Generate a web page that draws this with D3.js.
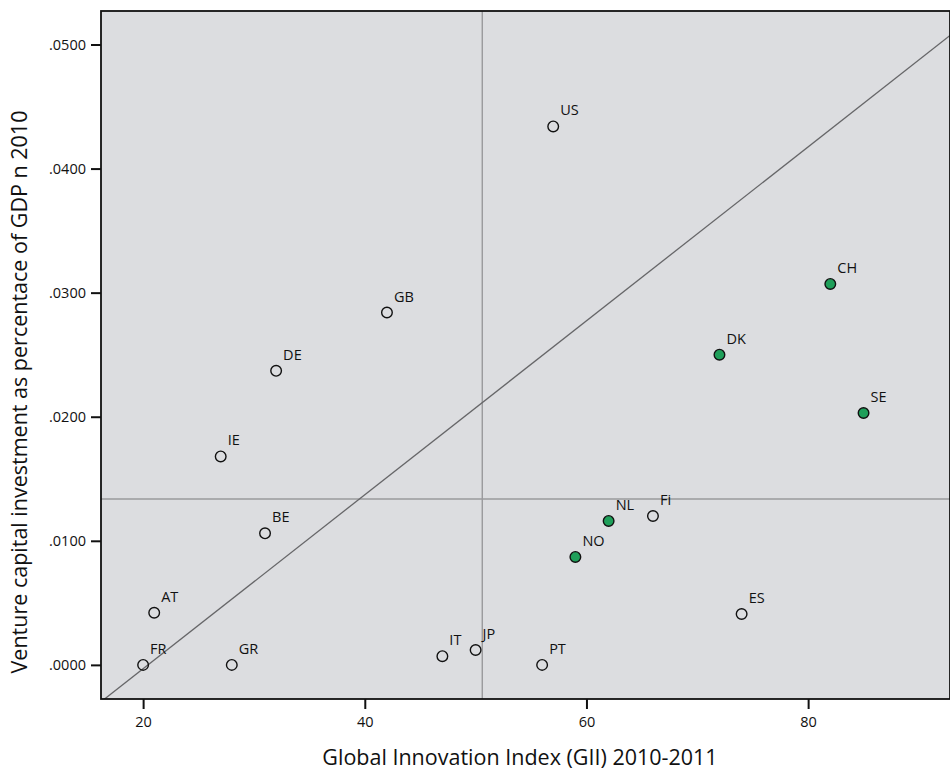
<!DOCTYPE html>
<html>
<head>
<meta charset="utf-8">
<script src="https://cdn.jsdelivr.net/npm/d3@7"></script>
<style>
  html, body { margin: 0; padding: 0; background: #ffffff; }
  svg { display: block; }
  text { font-family: "Open Sans", "Noto Sans", sans-serif; fill: #111; }
</style>
</head>
<body>
<svg id="chart" width="950" height="771"></svg>
<script>
// ---- data ----
const countries = ["US","GB","DE","IE","BE","AT","FR","GR","IT","JP","PT","NO","NL","Fi","ES","DK","CH","SE"];
const gii       = [57, 42, 32, 27, 31, 21, 20, 28, 47, 50, 56, 59, 62, 66, 74, 72, 82, 85];
const vcShare   = [0.0434, 0.0284, 0.0237, 0.0168, 0.0106, 0.0042, 0.0000, 0.0000, 0.0007, 0.0012, 0.0000, 0.0087, 0.0116, 0.0120, 0.0041, 0.0250, 0.0307, 0.0203];
const highlighted = ["NO","NL","DK","CH","SE"];
const xTicks = [20, 40, 60, 80];
const yTicks = [0.0, 0.01, 0.02, 0.03, 0.04, 0.05];
const refX = 50.6;       // vertical reference line
const refY = 0.01337;    // horizontal reference line
const fitSlope = 0.000701;
const fitIntercept = -0.01433;
const xTitle = "Global Innovation Index (GII) 2010-2011";
const yTitle = "Venture capital investment as percentace of GDP n 2010";

// ---- layout ----
const plot = { left: 101, top: 11, right: 950, bottom: 699 };
const svg = d3.select("#chart");

const x = d3.scaleLinear().domain([16.2, 92.8]).range([plot.left, plot.right]);
const y = d3.scaleLinear().domain([-0.00275, 0.0527]).range([plot.bottom, plot.top]);

svg.append("defs").append("clipPath").attr("id", "clip")
  .append("rect")
  .attr("x", plot.left).attr("y", plot.top)
  .attr("width", plot.right - plot.left).attr("height", plot.bottom - plot.top);

// background
svg.append("rect")
  .attr("x", plot.left).attr("y", plot.top)
  .attr("width", plot.right - plot.left).attr("height", plot.bottom - plot.top)
  .attr("fill", "#dcdde0");

const g = svg.append("g").attr("clip-path", "url(#clip)");

// reference lines
g.append("line")
  .attr("x1", x(refX)).attr("x2", x(refX))
  .attr("y1", plot.top).attr("y2", plot.bottom)
  .attr("stroke", "#9a9a9c").attr("stroke-width", 1.4);
g.append("line")
  .attr("x1", plot.left).attr("x2", plot.right)
  .attr("y1", y(refY)).attr("y2", y(refY))
  .attr("stroke", "#9a9a9c").attr("stroke-width", 1.6);

// fit line
const xd = x.domain();
g.append("line")
  .attr("x1", x(xd[0])).attr("y1", y(fitSlope * xd[0] + fitIntercept))
  .attr("x2", x(xd[1])).attr("y2", y(fitSlope * xd[1] + fitIntercept))
  .attr("stroke", "#666668").attr("stroke-width", 1.3);

// points
const pts = countries.map((c, i) => ({ c, gx: gii[i], vy: vcShare[i], hi: highlighted.includes(c) }));
g.selectAll("circle.pt").data(pts).enter().append("circle")
  .attr("class", "pt")
  .attr("cx", d => x(d.gx)).attr("cy", d => y(d.vy))
  .attr("r", 5.3)
  .attr("fill", d => d.hi ? "#1f9f5a" : "none")
  .attr("stroke", "#111").attr("stroke-width", 1.4);

g.selectAll("text.lbl").data(pts).enter().append("text")
  .attr("class", "lbl")
  .attr("x", d => x(d.gx) + 7).attr("y", d => y(d.vy) - 11)
  .attr("font-size", "14.5px")
  .text(d => d.c);

// frame
svg.append("rect")
  .attr("x", plot.left).attr("y", plot.top)
  .attr("width", plot.right - plot.left).attr("height", plot.bottom - plot.top)
  .attr("fill", "none").attr("stroke", "#111").attr("stroke-width", 1.8);

// x axis
const xAxis = d3.axisBottom(x).tickValues(xTicks).tickSize(10).tickPadding(8).tickFormat(d3.format("d"));
const xg = svg.append("g").attr("transform", `translate(0,${plot.bottom})`).call(xAxis);
xg.select(".domain").remove();
xg.selectAll(".tick line").attr("stroke", "#111").attr("stroke-width", 2);
xg.selectAll(".tick text").attr("font-size", "14.5px").attr("fill", "#111")
  .attr("font-family", "'Open Sans', 'Noto Sans', sans-serif");

// y axis
const fmtY = v => d3.format(".4f")(v).replace(/^0/, "");
const yAxis = d3.axisLeft(y).tickValues(yTicks).tickSize(10).tickPadding(5).tickFormat(fmtY);
const yg = svg.append("g").attr("transform", `translate(${plot.left},0)`).call(yAxis);
yg.select(".domain").remove();
yg.selectAll(".tick line").attr("stroke", "#111").attr("stroke-width", 2);
yg.selectAll(".tick text").attr("font-size", "14.5px").attr("fill", "#111")
  .attr("font-family", "'Open Sans', 'Noto Sans', sans-serif");

// titles
svg.append("text")
  .attr("x", 520).attr("y", 765)
  .attr("text-anchor", "middle")
  .attr("font-size", "21.5px")
  .text(xTitle);

svg.append("text")
  .attr("transform", "translate(27,392) rotate(-90)")
  .attr("text-anchor", "middle")
  .attr("font-size", "21.5px")
  .text(yTitle);
</script>
</body>
</html>
